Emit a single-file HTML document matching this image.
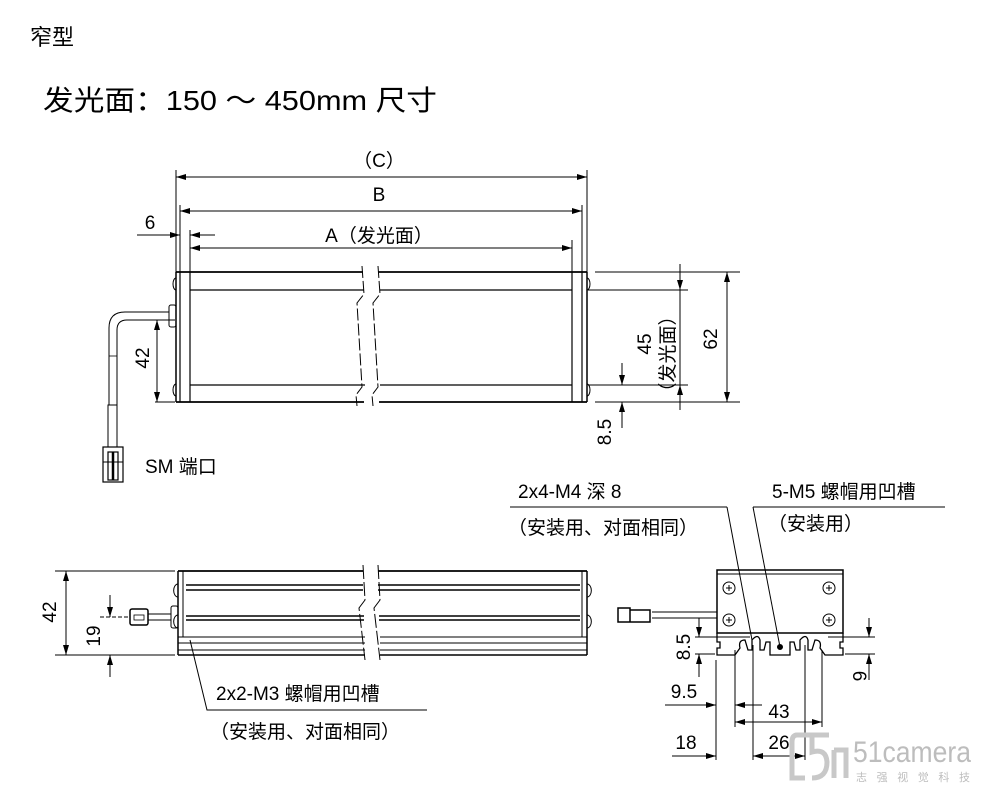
<!DOCTYPE html>
<html><head><meta charset="utf-8"><style>
html,body{margin:0;padding:0;background:#fff;}
svg{display:block;font-family:"Liberation Sans","Noto Sans CJK SC",sans-serif;}
</style></head><body>
<svg width="983" height="793" viewBox="0 0 983 793" xmlns="http://www.w3.org/2000/svg">
<defs>
<marker id="a" viewBox="0 0 10 6" refX="10" refY="3" markerWidth="10" markerHeight="6" markerUnits="userSpaceOnUse" orient="auto-start-reverse"><path d="M0,0 L10,3 L0,6 Z" fill="#000"/></marker>
</defs>
<g fill="#000">
<text x="30" y="45" font-size="22">窄型</text>
<text x="43" y="110" font-size="28" textLength="394" lengthAdjust="spacingAndGlyphs">发光面：150 ～ 450mm 尺寸</text>
</g>

<g stroke="#000" stroke-width="1" fill="none">
<line x1="176" y1="170" x2="176" y2="272"/>
<line x1="587" y1="170" x2="587" y2="272"/>
<line x1="180" y1="205" x2="180" y2="272"/>
<line x1="582" y1="205" x2="582" y2="272"/>
<line x1="190" y1="230" x2="190" y2="272"/>
<line x1="572" y1="240" x2="572" y2="272"/>
<line x1="176" y1="177" x2="587" y2="177" marker-start="url(#a)" marker-end="url(#a)"/>
<line x1="180" y1="211" x2="582" y2="211" marker-start="url(#a)" marker-end="url(#a)"/>
<line x1="190" y1="248" x2="572" y2="248" marker-start="url(#a)" marker-end="url(#a)"/>
<line x1="137" y1="235" x2="180" y2="235" marker-end="url(#a)"/>
<line x1="215" y1="235" x2="190" y2="235" marker-end="url(#a)"/>
</g>
<g font-size="19" fill="#000" text-anchor="middle">
<text x="379" y="167">（C）</text>
<text x="379" y="201">B</text>
<text x="150" y="229">6</text>
<text x="379" y="242">A（发光面）</text>
</g>

<g stroke="#000" fill="none">
<path d="M176,272 H363 M378,272 H587" stroke-width="1.8"/>
<path d="M176,402 H364 M379,402 H587" stroke-width="1.8"/>
<path d="M190,290 H364 M380,290 H572" stroke-width="1.2"/>
<path d="M190,385 H365 M380,385 H572" stroke-width="1.2"/>
<line x1="176" y1="272" x2="176" y2="402" stroke-width="1.5"/>
<line x1="180" y1="272" x2="180" y2="402" stroke-width="1.2"/>
<line x1="190" y1="272" x2="190" y2="402" stroke-width="1.2"/>
<line x1="572" y1="272" x2="572" y2="402" stroke-width="1.2"/>
<line x1="582" y1="272" x2="582" y2="402" stroke-width="1.2"/>
<line x1="587" y1="272" x2="587" y2="402" stroke-width="1.5"/>
<path d="M362,266 L364,294 L357,303 L362,387 L356,395 L357,406" stroke-dasharray="12,3" stroke-width="1"/>
<path d="M378,266 L380,294 L373,303 L378,387 L372,395 L373,406" stroke-dasharray="12,3" stroke-width="1"/>
<path d="M176,278 a3,6 0 0 0 0,12 M176,384 a3,6 0 0 0 0,12 M587,278 a3,6 0 0 1 0,12 M587,384 a3,6 0 0 1 0,12" stroke-width="1"/>
<rect x="169" y="305" width="7" height="22" rx="2" stroke-width="1"/>
<path d="M169,312 H125 Q109,312 109,328 V405" stroke-width="1"/>
<path d="M169,320 H127 Q117,320 117,330 V405" stroke-width="1"/>
<line x1="109" y1="356" x2="117" y2="356" stroke-width="0.8"/>
<rect x="108" y="405" width="9" height="42" stroke-width="1"/>
<rect x="103" y="447" width="20" height="35" stroke-width="1.2"/>
<rect x="108" y="452" width="10" height="28" stroke-width="1.2"/>
<line x1="113" y1="452" x2="113" y2="480" stroke-width="2.5"/>
<line x1="103" y1="462" x2="123" y2="462" stroke-width="1"/>
</g>
<g stroke="#000" stroke-width="1" fill="none">
<line x1="595" y1="272" x2="740" y2="272"/>
<line x1="595" y1="402" x2="740" y2="402"/>
<line x1="588" y1="290" x2="688" y2="290"/>
<line x1="588" y1="385" x2="688" y2="385"/>
<line x1="727" y1="272" x2="727" y2="402" marker-start="url(#a)" marker-end="url(#a)"/>
<line x1="680" y1="264" x2="680" y2="290" marker-end="url(#a)"/>
<line x1="680" y1="290" x2="680" y2="385"/>
<line x1="680" y1="410" x2="680" y2="385" marker-end="url(#a)"/>
<line x1="622" y1="363" x2="622" y2="385" marker-end="url(#a)"/>
<line x1="622" y1="428" x2="622" y2="402" marker-end="url(#a)"/>
<line x1="155" y1="320" x2="175" y2="320"/>
<line x1="155" y1="402" x2="175" y2="402"/>
<line x1="157" y1="320" x2="157" y2="402" marker-start="url(#a)" marker-end="url(#a)"/>
</g>
<g font-size="19" fill="#000" text-anchor="middle">
<text transform="translate(717,339) rotate(-90)">62</text>
<text transform="translate(651,344) rotate(-90)">45</text>
<text transform="translate(674,354) rotate(-90)">（发光面）</text>
<text transform="translate(611,432) rotate(-90)">8.5</text>
<text transform="translate(149,358) rotate(-90)">42</text>
<text x="145" y="473" text-anchor="start">SM 端口</text>
</g>

<g stroke="#000" fill="none">
<path d="M178,571 H363 M378,571 H587" stroke-width="1.8"/>
<path d="M178,655 H365 M380,655 H587" stroke-width="1.5"/>
<path d="M186,585 H363 M378,585 H580 M186,590 H363 M378,590 H580" stroke-width="1.5"/>
<path d="M186,616 H364 M379,616 H580 M186,620 H364 M379,620 H580" stroke-width="1.5"/>
<path d="M178,637 H365 M380,637 H587 M178,643 H365 M380,643 H587 M178,650 H365 M380,650 H587" stroke-width="1"/>
<line x1="178" y1="571" x2="178" y2="655" stroke-width="1.5"/>
<line x1="183" y1="571" x2="183" y2="637" stroke-width="1"/>
<line x1="587" y1="571" x2="587" y2="655" stroke-width="1.5"/>
<line x1="582" y1="571" x2="582" y2="637" stroke-width="1"/>
<path d="M178,584 a4,6 0 0 0 0,13 M178,615 a4,6 0 0 0 0,13 M587,584 a4,6 0 0 1 0,13 M587,615 a4,6 0 0 1 0,13" stroke-width="1"/>
<path d="M363,565 L365,600 L359,608 L365,660 M378,565 L380,600 L374,608 L380,660" stroke-dasharray="14,3" stroke-width="1"/>
<rect x="171" y="606" width="7" height="22" rx="2" stroke-width="1"/>
<line x1="148" y1="614" x2="171" y2="614" stroke-width="1"/>
<line x1="148" y1="620" x2="171" y2="620" stroke-width="1"/>
<rect x="130" y="609" width="18" height="16" rx="2" stroke-width="1.5"/>
<rect x="134" y="615" width="10" height="5" stroke-width="0.8"/>
<path d="M190,640 L207,710 H427" stroke-width="1"/>
</g>
<g stroke="#000" stroke-width="1" fill="none">
<line x1="55" y1="571" x2="175" y2="571"/>
<line x1="55" y1="655" x2="175" y2="655"/>
<line x1="66" y1="571" x2="66" y2="655" marker-start="url(#a)" marker-end="url(#a)"/>
<line x1="100" y1="617" x2="130" y2="617" stroke-dasharray="4,2"/>
<line x1="110" y1="595" x2="110" y2="617" marker-end="url(#a)"/>
<line x1="110" y1="677" x2="110" y2="655" marker-end="url(#a)"/>
</g>
<g font-size="19" fill="#000" text-anchor="middle">
<text transform="translate(56,612) rotate(-90)">42</text>
<text transform="translate(100,636) rotate(-90)">19</text>
<text x="216" y="700" text-anchor="start">2x2-M3 螺帽用凹槽</text>
<text x="210" y="738" text-anchor="start">（安装用、对面相同）</text>
</g>

<g font-size="19" fill="#000">
<text x="518" y="498">2x4-M4 深 8</text>
<text x="508" y="534">（安装用、对面相同）</text>
<text x="772" y="498">5-M5 螺帽用凹槽</text>
<text x="768" y="530">（安装用）</text>
</g>
<g stroke="#000" fill="none" stroke-width="1">
<line x1="510" y1="507" x2="727" y2="507"/>
<line x1="753" y1="507" x2="945" y2="507"/>
<line x1="727" y1="507" x2="752" y2="640"/>
<line x1="753" y1="507" x2="780" y2="647"/>
<rect x="717" y="570" width="126" height="63" stroke-width="1.5"/>
<line x1="717" y1="574" x2="843" y2="574"/>
<circle cx="729" cy="588" r="6"/><circle cx="829" cy="588" r="6"/>
<circle cx="729" cy="620" r="6"/><circle cx="829" cy="620" r="6"/>
<path d="M726,588 h6 M729,585 v6 M826,588 h6 M829,585 v6 M726,620 h6 M729,617 v6 M826,620 h6 M829,617 v6"/>
<line x1="652" y1="612" x2="717" y2="612"/><line x1="652" y1="618" x2="717" y2="618"/>
<path d="M618,608 h12 v14 h-12 z M630,610 h20 v12 h-20 z" stroke-width="1.5"/>
<path d="M717,633 V642 H720 V648 H717 V655 H735 L740,648 Q738,640 745,640 L748,650 H752 V640 Q758,633 760,640 V650 H764 L766,642 H770 V655 H790 V642 H794 L796,650 H800 V640 Q806,633 808,640 V650 H812 L815,640 Q822,640 820,648 L825,655 H843 V648 H840 V642 H843 V633" stroke-width="1.3"/>
<circle cx="780" cy="647" r="2.5" fill="#000"/>
<line x1="695" y1="637" x2="750" y2="637"/>
<line x1="695" y1="654" x2="715" y2="654"/>
<line x1="699" y1="618" x2="699" y2="637" marker-end="url(#a)"/>
<line x1="699" y1="677" x2="699" y2="654" marker-end="url(#a)"/>
<line x1="828" y1="637" x2="875" y2="637"/>
<line x1="845" y1="654" x2="875" y2="654"/>
<line x1="869" y1="618" x2="869" y2="637" marker-end="url(#a)"/>
<line x1="869" y1="680" x2="869" y2="654" marker-end="url(#a)"/>
<line x1="716" y1="660" x2="716" y2="760"/>
<line x1="735" y1="650" x2="735" y2="727"/>
<line x1="753" y1="645" x2="753" y2="760"/>
<line x1="805" y1="645" x2="805" y2="760"/>
<line x1="822" y1="650" x2="822" y2="727"/>
<line x1="665" y1="705" x2="716" y2="705" marker-end="url(#a)"/>
<line x1="762" y1="705" x2="735" y2="705" marker-end="url(#a)"/>
<line x1="735" y1="722" x2="822" y2="722" marker-start="url(#a)" marker-end="url(#a)"/>
<line x1="672" y1="756" x2="716" y2="756" marker-end="url(#a)"/>
<line x1="753" y1="756" x2="805" y2="756" marker-start="url(#a)" marker-end="url(#a)"/>
</g>
<g font-size="19" fill="#000" text-anchor="middle">
<text transform="translate(690,647) rotate(-90)">8.5</text>
<text transform="translate(853,676) rotate(90)">6</text>
<text x="684" y="698">9.5</text>
<text x="779" y="718">43</text>
<text x="686" y="749">18</text>
<text x="779" y="749">26</text>
</g>
<g fill="none" stroke="#c8c8c8" stroke-width="5">
<path d="M810,735 H797 Q792,735 792,742 V778 H805"/>
<path d="M829,735 H812 V752 Q826,748 827,762 Q827,778 812,778"/>
<path d="M834,750 V778 M834,750 H846 V778"/>
</g>
<text x="853" y="762" font-size="30" fill="#bdbdbd" font-family="Liberation Sans Narrow,Liberation Sans,sans-serif" textLength="118" lengthAdjust="spacingAndGlyphs">51camera</text>
<text x="856" y="781" font-size="11" fill="#bdbdbd" textLength="114" lengthAdjust="spacing">志强视觉科技</text>
</svg>
</body></html>
